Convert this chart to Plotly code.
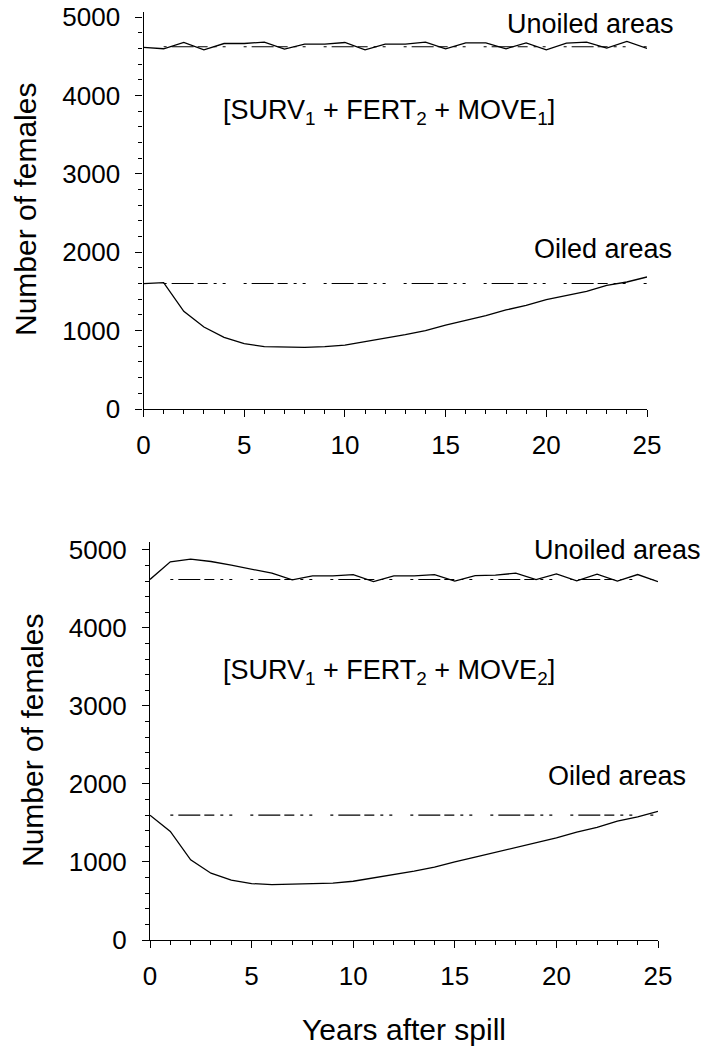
import plotly.graph_objects as go

W, H = 706, 1049

years = list(range(26))

top_unoiled = [4612, 4595, 4675, 4582, 4662, 4662, 4680, 4590, 4654, 4654, 4675, 4582, 4654,
               4654, 4680, 4595, 4670, 4670, 4595, 4670, 4582, 4666, 4680, 4603, 4688, 4599]
top_oiled = [1600, 1611, 1246, 1046, 914, 833, 795, 787, 787, 795, 816, 859, 901,
             948, 999, 1071, 1131, 1190, 1263, 1322, 1395, 1450, 1501, 1577, 1620, 1684]
bot_unoiled = [4620, 4846, 4880, 4850, 4803, 4752, 4700, 4615, 4666, 4666, 4683, 4593, 4666,
               4666, 4683, 4598, 4670, 4675, 4700, 4619, 4692, 4602, 4688, 4598, 4683, 4593]
bot_oiled = [1600, 1391, 1027, 856, 766, 723, 710, 715, 719, 728, 753, 796, 835,
             882, 933, 1002, 1061, 1121, 1181, 1250, 1310, 1382, 1442, 1524, 1579, 1648]

eq_years = [1, 25]
eq_unoiled = [4620, 4620]
eq_oiled = [1600, 1600]

FONT = "Liberation Sans, Arial, sans-serif"
DASH = "3px,5px,22px,4px,10px,6px,3px,6px,3px,18px"


def px(x):
    return x / W


def py(y):
    return 1 - y / H


fig = go.Figure()

panels = [("x", "y", top_unoiled, top_oiled), ("x2", "y2", bot_unoiled, bot_oiled)]
for xa, ya, un, oi in panels:
    for eq in (eq_unoiled, eq_oiled):
        fig.add_trace(go.Scatter(x=eq_years, y=eq, mode="lines", xaxis=xa, yaxis=ya,
                                 line=dict(color="black", width=1.1, dash=DASH),
                                 showlegend=False, hoverinfo="skip"))
    for s in (un, oi):
        fig.add_trace(go.Scatter(x=years, y=s, mode="lines", xaxis=xa, yaxis=ya,
                                 line=dict(color="black", width=1.3),
                                 showlegend=False, hoverinfo="skip"))

tickfont = dict(family=FONT, size=26, color="black")


def xaxis(domain, anchor):
    return dict(domain=domain, anchor=anchor, range=[0, 25], tickvals=[0, 5, 10, 15, 20, 25],
                ticks="outside", ticklen=7, tickwidth=1.2, tickcolor="black",
                minor=dict(dtick=1, ticks="outside", ticklen=4, tickwidth=1.1, tickcolor="black"),
                showline=True, linecolor="black", linewidth=1.3, showgrid=False, zeroline=False,
                tickfont=tickfont, ticklabelstandoff=6, fixedrange=True, automargin=False)


def yaxis(domain, anchor, top):
    return dict(domain=domain, anchor=anchor, range=[0, top],
                tickvals=[0, 1000, 2000, 3000, 4000, 5000],
                ticks="outside", ticklen=7, tickwidth=1.2, tickcolor="black",
                minor=dict(dtick=200, ticks="outside", ticklen=4, tickwidth=1.1, tickcolor="black"),
                showline=True, linecolor="black", linewidth=1.3, showgrid=False, zeroline=False,
                tickfont=tickfont, ticklabelstandoff=10, fixedrange=True, automargin=False)


fig.update_layout(
    template="none",
    width=W, height=H,
    margin=dict(l=0, r=0, t=0, b=0, pad=0),
    paper_bgcolor="white", plot_bgcolor="white",
    font=dict(family=FONT, color="black"),
    xaxis=xaxis([px(143.5), px(647)], "y"),
    yaxis=yaxis([py(409), py(12)], "x", 5064),
    xaxis2=xaxis([px(150), px(658)], "y2"),
    yaxis2=yaxis([py(940), py(542)], "x2", 5100),
)

ann_font = dict(family=FONT, size=27, color="black")
title_font = dict(family=FONT, size=30, color="black")
annotations = [
    dict(text="Unoiled areas", x=px(590), y=py(24), font=ann_font),
    dict(text="Oiled areas", x=px(603), y=py(249), font=ann_font),
    dict(text="[SURV<sub>1</sub> + FERT<sub>2</sub> + MOVE<sub>1</sub>]", x=px(389), y=py(112), font=ann_font),
    dict(text="Unoiled areas", x=px(617), y=py(550), font=ann_font),
    dict(text="Oiled areas", x=px(617), y=py(776), font=ann_font),
    dict(text="[SURV<sub>1</sub> + FERT<sub>2</sub> + MOVE<sub>2</sub>]", x=px(389), y=py(672), font=ann_font),
    dict(text="Number of females", x=px(25), y=py(210), textangle=-90, font=title_font),
    dict(text="Number of females", x=px(32), y=py(741), textangle=-90, font=title_font),
    dict(text="Years after spill", x=px(404), y=py(1029), font=title_font),
]
for a in annotations:
    a.update(xref="paper", yref="paper", showarrow=False, xanchor="center", yanchor="middle")
fig.update_layout(annotations=annotations)

fig.write_html("out.html")
